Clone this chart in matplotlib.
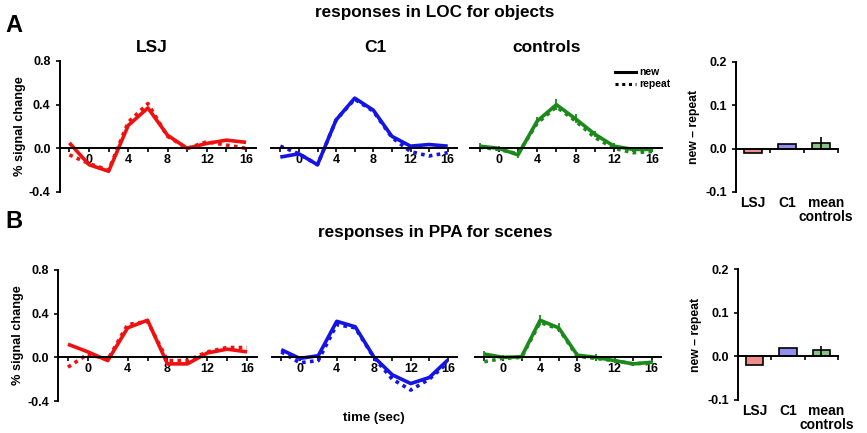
import numpy as np
import matplotlib.pyplot as plt
from matplotlib.lines import Line2D

plt.rcParams['font.family'] = ['Liberation Sans', 'DejaVu Sans']
plt.rcParams['font.weight'] = 'bold'

# time points (sec)
t = [-2, 0, 2, 4, 6, 8, 10, 12, 14, 16]

# LOC, objects
loc_lsj_new = [0.05, -0.15, -0.21, 0.21, 0.37, 0.12, 0.0, 0.045, 0.075, 0.055]
loc_lsj_rep = [-0.06, -0.14, -0.20, 0.24, 0.41, 0.11, 0.0, 0.06, 0.03, 0.0]
loc_c1_new = [-0.08, -0.05, -0.15, 0.26, 0.46, 0.35, 0.11, 0.02, 0.035, 0.02]
loc_c1_rep = [0.02, -0.05, -0.15, 0.26, 0.45, 0.34, 0.10, -0.03, -0.07, -0.04]
loc_ctl_new = [0.02, 0.0, -0.06, 0.25, 0.40, 0.27, 0.13, 0.02, -0.01, -0.01]
loc_ctl_rep = [0.01, -0.01, -0.05, 0.23, 0.38, 0.25, 0.10, 0.0, -0.04, -0.03]
loc_ctl_err = [0.03, 0.02, 0.03, 0.04, 0.05, 0.04, 0.03, 0.03, 0.02, 0.02]

# PPA, scenes
ppa_lsj_new = [0.12, 0.05, -0.03, 0.27, 0.34, -0.06, -0.06, 0.04, 0.075, 0.05]
ppa_lsj_rep = [-0.09, 0.03, -0.02, 0.30, 0.33, -0.03, -0.03, 0.05, 0.09, 0.09]
ppa_c1_new = [0.07, -0.01, 0.015, 0.33, 0.28, 0.005, -0.16, -0.24, -0.185, -0.025]
ppa_c1_rep = [0.05, -0.05, -0.03, 0.30, 0.27, 0.0, -0.20, -0.30, -0.20, -0.05]
ppa_ctl_new = [0.03, 0.0, 0.005, 0.34, 0.27, 0.02, 0.0, -0.03, -0.06, -0.045]
ppa_ctl_rep = [-0.04, -0.01, 0.0, 0.32, 0.26, 0.01, -0.01, -0.03, -0.06, -0.05]
ppa_ctl_err = [0.03, 0.02, 0.02, 0.045, 0.04, 0.03, 0.03, 0.02, 0.02, 0.02]

# new - repeat bars
bar_labels = ['LSJ', 'C1', 'mean\ncontrols']
loc_diff = [-0.01, 0.011, 0.013]
loc_diff_err = [0, 0, 0.015]
ppa_diff = [-0.019, 0.019, 0.014]
ppa_diff_err = [0, 0, 0.01]

red = '#f01010'
blue = '#1414e6'
green = '#1b8a1b'
bar_colors = ['#f08c8c', '#9090f0', '#88c088']

W, H = 867, 433
fig = plt.figure(figsize=(W / 100, H / 100), dpi=100)


def add_ax(l, r, top, bot):
    return fig.add_axes([l / W, 1 - bot / H, (r - l) / W, (bot - top) / H])


def line_panel(ax, new, rep, color, show_y, err=None):
    ax.plot(t, new, color=color, lw=2.6, solid_capstyle='butt')
    ax.plot(t, rep, color=color, lw=2.6, ls=(0, (1, 1.2)))
    if err is not None:
        ax.errorbar(t, new, yerr=err, fmt='none', ecolor=color, elinewidth=1.3, capsize=0)
    ax.set_xlim(-3, 17)
    ax.set_ylim(-0.4, 0.8)
    ax.spines['top'].set_visible(False)
    ax.spines['right'].set_visible(False)
    ax.spines['bottom'].set_position(('data', 0))
    ax.spines['bottom'].set_linewidth(1.4)
    ax.set_xticks([0, 4, 8, 12, 16])
    ax.set_xticks([-2, 2, 6, 10, 14], minor=True)
    ax.tick_params(axis='x', which='both', direction='out', length=3, width=1.2,
                   labelsize=9, pad=1)
    if show_y:
        ax.spines['left'].set_linewidth(1.4)
        ax.set_yticks([-0.4, 0.0, 0.4, 0.8])
        ax.set_yticklabels(['-0.4', '0.0', '0.4', '0.8'])
        ax.tick_params(axis='y', direction='out', length=3, width=1.2, labelsize=9)
        ax.set_ylabel('% signal change', fontsize=9.2, fontweight='bold', labelpad=2)
    else:
        ax.spines['left'].set_visible(False)
        ax.set_yticks([])
    ax.patch.set_alpha(0)


def bar_panel(ax, vals, errs):
    x = np.arange(len(vals))
    ax.bar(x, vals, width=0.52, color=bar_colors, edgecolor='black', linewidth=1.2)
    ax.errorbar(x, vals, yerr=errs, fmt='none', ecolor='black', elinewidth=1.2, capsize=0)
    ax.set_xlim(-0.5, 2.5)
    ax.set_ylim(-0.1, 0.2)
    ax.spines['top'].set_visible(False)
    ax.spines['right'].set_visible(False)
    ax.spines['bottom'].set_position(('data', 0))
    ax.spines['bottom'].set_linewidth(1.4)
    ax.spines['left'].set_linewidth(1.4)
    ax.set_xticks([0.5, 1.5, 2.5])
    ax.set_xticklabels([])
    ax.tick_params(axis='x', direction='out', length=3, width=1.2)
    ax.set_yticks([-0.1, 0.0, 0.1, 0.2])
    ax.set_yticklabels(['-0.1', '0.0', '0.1', '0.2'])
    ax.tick_params(axis='y', direction='out', length=3, width=1.2, labelsize=9)
    ax.set_ylabel('new – repeat', fontsize=8.8, fontweight='bold', labelpad=4)
    for xi, lab in zip(x, bar_labels):
        ax.text(xi + (0.15 if '\n' in lab else 0), -0.03, lab,
                transform=ax.get_xaxis_transform(), ha='center',
                va='top', fontsize=10, fontweight='bold', linespacing=1.05)


# top row
a1 = add_ax(59.6, 255.8, 61, 192)
line_panel(a1, loc_lsj_new, loc_lsj_rep, red, True)
a2 = add_ax(271, 457, 61, 192)
line_panel(a2, loc_c1_new, loc_c1_rep, blue, False)
a3 = add_ax(470, 662, 61, 192)
line_panel(a3, loc_ctl_new, loc_ctl_rep, green, False, loc_ctl_err)
a4 = add_ax(736, 838, 62, 192)
bar_panel(a4, loc_diff, loc_diff_err)

# bottom row
b1 = add_ax(58, 257, 270, 401)
line_panel(b1, ppa_lsj_new, ppa_lsj_rep, red, True)
b2 = add_ax(272, 457, 270, 401)
line_panel(b2, ppa_c1_new, ppa_c1_rep, blue, False)
b3 = add_ax(475, 661, 270, 401)
line_panel(b3, ppa_ctl_new, ppa_ctl_rep, green, False, ppa_ctl_err)
b4 = add_ax(738, 838, 269, 400)
bar_panel(b4, ppa_diff, ppa_diff_err)

# titles and labels
fig.text(14 / W, 1 - 25 / H, 'A', fontsize=17, fontweight='bold', va='center', ha='center')
fig.text(14 / W, 1 - 222 / H, 'B', fontsize=17, fontweight='bold', va='center', ha='center')
fig.text(435 / W, 1 - 13 / H, 'responses in LOC for objects', fontsize=12.3,
         fontweight='bold', ha='center', va='center')
fig.text(435 / W, 1 - 232 / H, 'responses in PPA for scenes', fontsize=12.3,
         fontweight='bold', ha='center', va='center')
for xc, name in [(152, 'LSJ'), (375, 'C1'), (547, 'controls')]:
    fig.text(xc / W, 1 - 48 / H, name, fontsize=12.5, fontweight='bold', ha='center', va='center')
fig.text(374 / W, 1 - 418 / H, 'time (sec)', fontsize=9.5, fontweight='bold', ha='center', va='center')

handles = [Line2D([], [], color='black', lw=2.2),
           Line2D([], [], color='black', lw=2.2, ls=(0, (1, 1.2)))]
fig.legend(handles, ['new', 'repeat'], loc='upper left',
           bbox_to_anchor=(610 / W, 1 - 62 / H), frameon=False, fontsize=7.5,
           handlelength=2.0, handletextpad=0.3, labelspacing=0.2, borderpad=0)

fig.savefig('out.png', dpi=100)
